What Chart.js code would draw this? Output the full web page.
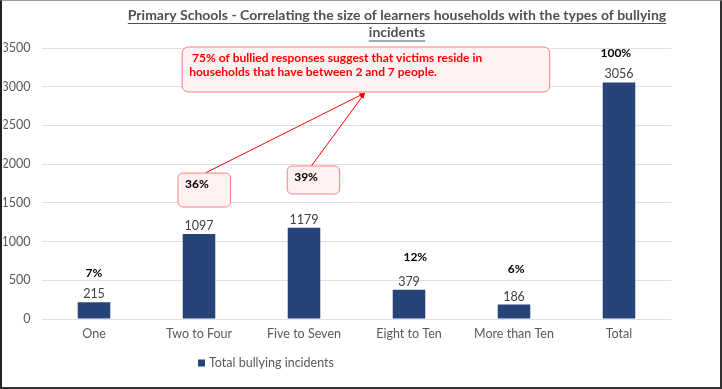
<!DOCTYPE html>
<html>
<head>
<meta charset="utf-8">
<script src="https://cdn.jsdelivr.net/npm/chart.js@4"></script>
<style>
  html, body { margin: 0; padding: 0; background: #fff; }
  #wrap { position: relative; width: 722px; height: 389px; }
  #frame {
    position: absolute; left: 0; top: 0; width: 722px; height: 389px;
    box-sizing: border-box; pointer-events: none;
    border-top: 1px solid #9a9a9a; border-left: 2px solid #222;
    border-right: 2px solid #333; border-bottom: 2px solid #333;
  }
</style>
</head>
<body>
<div id="wrap">
  <canvas id="grafico"></canvas>
  <div id="frame"></div>
</div>
<script>
// Dados do grafico
const categorias = ['One', 'Two to Four', 'Five to Seven', 'Eight to Ten', 'More than Ten', 'Total'];
const incidentes = [215, 1097, 1179, 379, 186, 3056];
const percentuais = ['7%', '36%', '39%', '12%', '6%', '100%'];
const tituloLinhas = ['Primary Schools - Correlating the size of learners households with the types of bullying', 'incidents'];
const textoDestaque = [' 75% of bullied responses suggest that victims reside in', 'households that have between 2 and 7 people.'];
const nomeSerie = 'Total bullying incidents';

const corBarra = '#264478';
const corTexto = '#595959';
const fonte = 'Lato, "Liberation Sans", sans-serif';

// Onde ficam os rotulos de percentual (unidades do grafico: indice da categoria, valor)
const rotulosSoltos = [
  { i: 0, x: 0, v: 594 },
  { i: 3, x: 3.06, v: 801 },
  { i: 4, x: 4.02, v: 646 },
  { i: 5, x: 4.97, v: 3435 }
];
// Caixas com 36% e 39%
const caixas = [
  { i: 1, x0: 0.80, x1: 1.30, v0: 1885, v1: 1446 },
  { i: 2, x0: 1.84, x1: 2.34, v0: 1976, v1: 1614 }
];
// Caixa grande e setas
const caixaGrande = { x0: 0.84, x1: 4.34, v0: 3513, v1: 2932 };
const setas = [
  { de: [1.06, 1886], para: [2.58, 2919] },
  { de: [2.07, 1976], para: [2.58, 2919] }
];

function caixaArredondada(ctx, x, y, w, h, r) {
  ctx.beginPath();
  ctx.moveTo(x + r, y);
  ctx.arcTo(x + w, y, x + w, y + h, r);
  ctx.arcTo(x + w, y + h, x, y + h, r);
  ctx.arcTo(x, y + h, x, y, r);
  ctx.arcTo(x, y, x + w, y, r);
  ctx.closePath();
  ctx.fillStyle = '#FFF1F1';
  ctx.fill();
  ctx.strokeStyle = '#FF8080';
  ctx.lineWidth = 1;
  ctx.stroke();
}

const pluginExtras = {
  id: 'extras',
  afterDraw(chart) {
    const ctx = chart.ctx;
    const xs = chart.scales.x, ys = chart.scales.y;
    ctx.save();

    // Titulo sublinhado
    ctx.font = 'bold 14px ' + fonte;
    ctx.fillStyle = '#505050';
    ctx.strokeStyle = '#505050';
    ctx.textAlign = 'center';
    ctx.textBaseline = 'middle';
    const tx = 397;
    tituloLinhas.forEach(function (linha, k) {
      const y = 15 + k * 17.5;
      ctx.fillText(linha, tx, y);
      const w = ctx.measureText(linha).width;
      ctx.lineWidth = 1;
      ctx.beginPath();
      ctx.moveTo(tx - w / 2, y + 8.5);
      ctx.lineTo(tx + w / 2, y + 8.5);
      ctx.stroke();
    });

    // Valores em cima das barras
    const meta = chart.getDatasetMeta(0);
    ctx.font = '12.5px ' + fonte;
    ctx.fillStyle = '#404040';
    meta.data.forEach(function (bar, k) {
      ctx.fillText(String(incidentes[k]), bar.x, bar.y - 8);
    });

    // Percentuais soltos
    ctx.font = 'bold 12px ' + fonte;
    ctx.fillStyle = '#000';
    rotulosSoltos.forEach(function (r) {
      ctx.fillText(percentuais[r.i], xs.getPixelForValue(r.x), ys.getPixelForValue(r.v));
    });

    // Setas
    ctx.strokeStyle = '#FF0000';
    ctx.fillStyle = '#FF0000';
    ctx.lineWidth = 1;
    setas.forEach(function (s) {
      const x1 = xs.getPixelForValue(s.de[0]), y1 = ys.getPixelForValue(s.de[1]);
      const x2 = xs.getPixelForValue(s.para[0]), y2 = ys.getPixelForValue(s.para[1]);
      ctx.beginPath();
      ctx.moveTo(x1, y1);
      ctx.lineTo(x2, y2);
      ctx.stroke();
      const a = Math.atan2(y2 - y1, x2 - x1);
      ctx.beginPath();
      ctx.moveTo(x2, y2);
      ctx.lineTo(x2 - 6 * Math.cos(a - 0.4), y2 - 6 * Math.sin(a - 0.4));
      ctx.lineTo(x2 - 6 * Math.cos(a + 0.4), y2 - 6 * Math.sin(a + 0.4));
      ctx.closePath();
      ctx.fill();
    });

    // Caixas 36% / 39%
    caixas.forEach(function (c) {
      const x0 = xs.getPixelForValue(c.x0), x1 = xs.getPixelForValue(c.x1);
      const y0 = ys.getPixelForValue(c.v0), y1 = ys.getPixelForValue(c.v1);
      caixaArredondada(ctx, x0, y0, x1 - x0, y1 - y0, 5);
      ctx.font = 'bold 12px ' + fonte;
      ctx.fillStyle = '#000';
      ctx.textAlign = 'left';
      ctx.fillText(percentuais[c.i], x0 + 7, y0 + 11);
    });

    // Caixa grande
    const gx0 = xs.getPixelForValue(caixaGrande.x0), gx1 = xs.getPixelForValue(caixaGrande.x1);
    const gy0 = ys.getPixelForValue(caixaGrande.v0), gy1 = ys.getPixelForValue(caixaGrande.v1);
    caixaArredondada(ctx, gx0, gy0, gx1 - gx0, gy1 - gy0, 6);
    ctx.font = 'bold 12px ' + fonte;
    ctx.fillStyle = '#FF0000';
    ctx.textAlign = 'left';
    textoDestaque.forEach(function (linha, k) {
      ctx.fillText(linha, gx0 + 7, gy0 + 11 + k * 14);
    });

    // Legenda
    ctx.fillStyle = corBarra;
    ctx.fillRect(198, 359.5, 7, 7);
    ctx.font = '12.5px ' + fonte;
    ctx.fillStyle = corTexto;
    ctx.fillText(nomeSerie, 209, 363);

    ctx.restore();
  }
};

new Chart(document.getElementById('grafico'), {
  type: 'bar',
  data: {
    labels: categorias,
    datasets: [{
      label: nomeSerie,
      data: incidentes,
      backgroundColor: corBarra,
      barPercentage: 0.62,
      categoryPercentage: 0.5
    }]
  },
  options: {
    responsive: true,
    maintainAspectRatio: false,
    animation: false,
    layout: { padding: { left: 3.5, right: 50.5, top: 48, bottom: 40 } },
    plugins: {
      legend: { display: false },
      title: { display: false },
      tooltip: { enabled: false }
    },
    scales: {
      x: {
        grid: { display: false, drawTicks: false },
        border: { display: false },
        ticks: { color: corTexto, font: { family: fonte, size: 12.5 }, padding: 7 },
        afterFit: function (s) { s.height = 30; }
      },
      y: {
        min: 0,
        max: 3500,
        ticks: {
          stepSize: 500,
          color: corTexto,
          font: { family: fonte, size: 12.5 },
          padding: 11,
          callback: function (v) { return String(v); }
        },
        grid: { color: '#E0E0E0', drawTicks: false },
        border: { display: false },
        afterFit: function (s) { s.width = 38; }
      }
    }
  },
  plugins: [pluginExtras]
});
</script>
</body>
</html>
